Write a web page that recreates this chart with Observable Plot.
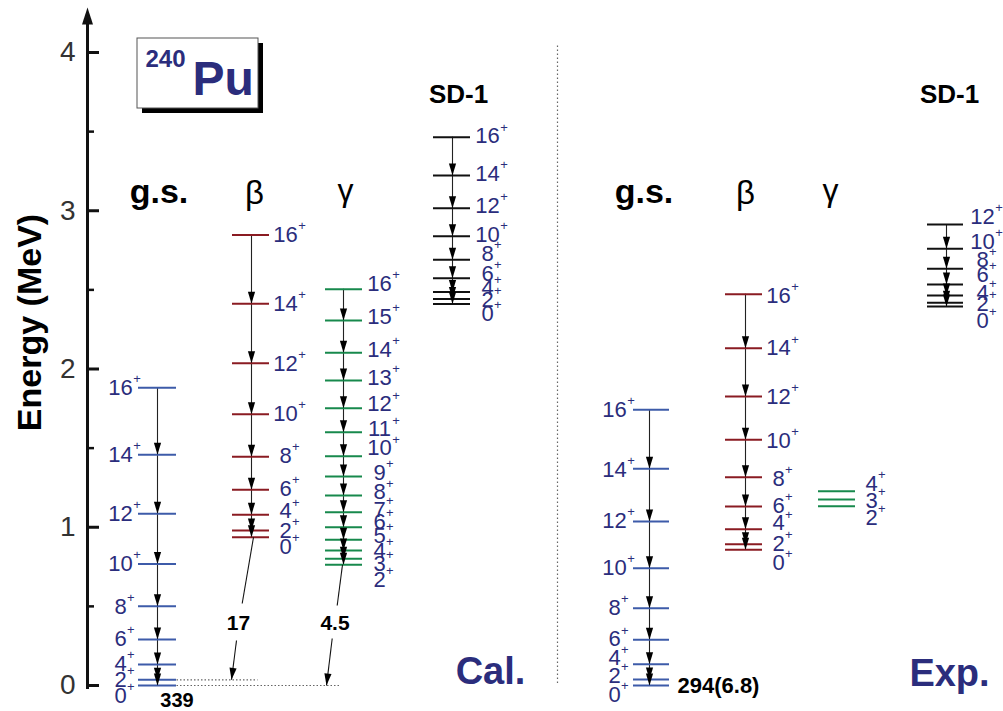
<!DOCTYPE html>
<html><head><meta charset="utf-8">
<script src="https://cdn.jsdelivr.net/npm/d3@7"></script>
<script src="https://cdn.jsdelivr.net/npm/@observablehq/plot@0.6"></script>
<style>html,body{margin:0;padding:0;background:#fff}#chart svg{display:block}</style>
</head><body><div id="chart"></div>
<script>
// ---------- DATA (energies in MeV) ----------
const evenSpins = [0, 2, 4, 6, 8, 10, 12, 14, 16];
const gammaCalSpins = [2, 3, 4, 5, 6, 7, 8, 9, 10, 11, 12, 13, 14, 15, 16];
const gammaExpSpins = [2, 3, 4];
const sdExpSpins = [0, 2, 4, 6, 8, 10, 12];

// Calculation
const calGsEnergy   = [0, 0.036, 0.133, 0.291, 0.501, 0.767, 1.085, 1.458, 1.881];
const calGsLabelE   = [-0.063, 0.038, 0.139, 0.297, 0.499, 0.771, 1.087, 1.46, 1.883];
const calBetaEnergy = [0.937, 0.979, 1.079, 1.237, 1.445, 1.714, 2.037, 2.412, 2.846];
const calBetaLabelE = [0.878, 0.979, 1.100, 1.245, 1.453, 1.719, 2.035, 2.414, 2.85];
const calGammaEnergy = [0.763, 0.801, 0.853, 0.921, 1.000, 1.095, 1.201, 1.321, 1.449, 1.601, 1.752, 1.927, 2.102, 2.306, 2.504];
const calGammaLabelE = [0.670, 0.771, 0.853, 0.948, 1.032, 1.112, 1.220, 1.346, 1.498, 1.618, 1.776, 1.943, 2.123, 2.332, 2.540];
const calSdEnergy   = [2.411, 2.442, 2.487, 2.574, 2.690, 2.839, 3.016, 3.223, 3.465];
const calSdLabelE   = [2.350, 2.439, 2.509, 2.603, 2.730, 2.850, 3.029, 3.231, 3.470];

// Experiment
const expGsEnergy   = [0, 0.038, 0.135, 0.289, 0.488, 0.741, 1.036, 1.369, 1.742];
const expGsLabelE   = [-0.057, 0.059, 0.171, 0.291, 0.490, 0.742, 1.038, 1.365, 1.741];
const expBetaEnergy = [0.858, 0.893, 0.988, 1.131, 1.316, 1.553, 1.826, 2.131, 2.473];
const expBetaLabelE = [0.774, 0.897, 1.024, 1.133, 1.308, 1.548, 1.826, 2.130, 2.464];
const expGammaEnergy = [1.133, 1.175, 1.228];
const expGammaLabelE = [1.058, 1.169, 1.276];
const expSdEnergy   = [2.395, 2.418, 2.464, 2.534, 2.633, 2.760, 2.913];
const expSdLabelE   = [2.306, 2.414, 2.483, 2.597, 2.686, 2.801, 2.959];

// Interband values
const calBetaBE2 = "17";
const calGammaBE2 = "4.5";
const calGsBE2 = "339";
const expGsBE2 = "294(6.8)";

const axisMajor = [0, 1, 2, 3, 4];
const axisMinor = [0.5, 1.5, 2.5, 3.5];

// ---------- STYLE / LAYOUT ----------
const navy = "#2b2d7c";
const gsColor = "#3d5ba9", betaColor = "#8a1b22", gammaColor = "#17894c", sdColor = "#111";
const FONT = "Liberation Sans, Arial, Helvetica, sans-serif";
const LABEL_SIZE = 22;

const bands = [
  {spins: evenSpins, E: calGsEnergy, LE: calGsLabelE, color: gsColor, x1: 138, x2: 176, ax: 157, lx: 120},
  {spins: evenSpins, E: calBetaEnergy, LE: calBetaLabelE, color: betaColor, x1: 232, x2: 269, ax: 251, lx: 285},
  {spins: gammaCalSpins, E: calGammaEnergy, LE: calGammaLabelE, color: gammaColor, x1: 325, x2: 362, ax: 343, lx: 379},
  {spins: evenSpins, E: calSdEnergy, LE: calSdLabelE, color: sdColor, x1: 433, x2: 470, ax: 452, lx: 487},
  {spins: evenSpins, E: expGsEnergy, LE: expGsLabelE, color: gsColor, x1: 633, x2: 669, ax: 649, lx: 614},
  {spins: evenSpins, E: expBetaEnergy, LE: expBetaLabelE, color: betaColor, x1: 725, x2: 762, ax: 745, lx: 778},
  {spins: gammaExpSpins, E: expGammaEnergy, LE: expGammaLabelE, color: gammaColor, x1: 818, x2: 855, ax: null, lx: 871},
  {spins: sdExpSpins, E: expSdEnergy, LE: expSdLabelE, color: sdColor, x1: 927, x2: 963, ax: 946, lx: 982}
];

const px = p => (685 - p) / 158.25; // layout helper: pixel row -> energy

// filled arrow-head symbols, tip at origin
const headSym = {draw(ctx) { ctx.moveTo(0, 0); ctx.lineTo(-3.6, -12); ctx.lineTo(3.6, -12); ctx.closePath(); }};
const bigHead = {draw(ctx) { ctx.moveTo(0, 0); ctx.lineTo(-5.5, 17); ctx.lineTo(5.5, 17); ctx.closePath(); }};

const marks = [];

// y axis
marks.push(Plot.ruleX([87], {y1: px(689), y2: px(20), stroke: "#111", strokeWidth: 3}));
marks.push(Plot.dot([87], {x: d => d, y: px(7), symbol: bigHead, fill: "#111", stroke: "none"}));
marks.push(Plot.ruleY(axisMajor, {y: d => d, x1: 86, x2: 99, stroke: "#111", strokeWidth: 3}));
marks.push(Plot.ruleY(axisMinor, {y: d => d, x1: 86, x2: 94, stroke: "#111", strokeWidth: 2.5}));
marks.push(Plot.text(axisMajor, {x: 75, y: d => d, text: d => String(d), textAnchor: "end", lineAnchor: "middle", fontSize: 28, fill: "#333"}));
marks.push(Plot.text(["Energy (MeV)"], {x: 30, y: px(322), text: d => d, rotate: -90, fontSize: 34, fontWeight: "bold", fill: "#000", lineAnchor: "middle"}));

// divider
marks.push(Plot.ruleX([557], {y1: px(683), y2: px(45), stroke: "#666", strokeWidth: 1.2, strokeDasharray: "1.5,2.5"}));

// dotted reference lines
marks.push(Plot.link([{a: 176, b: 257, e: calGsEnergy[1]}, {a: 176, b: 339, e: calGsEnergy[0]}],
  {x1: "a", x2: "b", y1: "e", y2: "e", stroke: "#666", strokeWidth: 1.2, strokeDasharray: "1.5,2"}));

// bands
for (const b of bands) {
  const levels = b.spins.map((s, i) => ({s, E: b.E[i], LE: b.LE[i], nd: String(s).length}));
  if (b.ax != null) {
    marks.push(Plot.ruleX([b.ax], {y1: d3.min(b.E), y2: d3.max(b.E), stroke: "#222", strokeWidth: 1.1}));
  }
  marks.push(Plot.ruleY(levels, {y: "E", x1: b.x1, x2: b.x2, stroke: b.color, strokeWidth: 2}));
  if (b.ax != null) {
    const top = d3.max(b.E);
    marks.push(Plot.dot(levels.filter(d => d.E < top), {x: b.ax, y: "E", symbol: headSym, fill: "#000", stroke: "none"}));
  }
  marks.push(Plot.text(levels, {x: b.lx, y: "LE", text: d => String(d.s), textAnchor: "middle", lineAnchor: "middle", fontSize: LABEL_SIZE, fill: navy}));
  marks.push(Plot.text(levels, {x: d => b.lx + d.nd * 6.1 + 0.5, y: "LE", text: () => "+", textAnchor: "start", lineAnchor: "middle", dy: -9, fontSize: 13, fill: navy}));
}

// interband transitions (Cal.)
const interLinks = [
  {x1: 253, y1: calBetaEnergy[0], x2: 241.7, y2: px(603)},
  {x1: 236, y1: px(640), x2: 231, y2: calGsEnergy[1]},
  {x1: 342, y1: calGammaEnergy[0], x2: 336.7, y2: px(605)},
  {x1: 331.7, y1: px(638), x2: 326, y2: calGsEnergy[0]}
];
marks.push(Plot.link(interLinks, {x1: "x1", y1: "y1", x2: "x2", y2: "y2", stroke: "#111", strokeWidth: 1.1}));
marks.push(Plot.dot([{x: 231, y: calGsEnergy[1], r: 7.5}, {x: 326, y: calGsEnergy[0], r: 6.9}],
  {x: "x", y: "y", rotate: "r", symbol: headSym, fill: "#000", stroke: "none"}));

// transition strengths
const bold = {fontWeight: "bold", fill: "#000", lineAnchor: "middle", fontSize: 21};
marks.push(Plot.text([calBetaBE2], {x: 238, y: px(623), text: d => d, ...bold}));
marks.push(Plot.text([calGammaBE2], {x: 334.5, y: px(623), text: d => d, ...bold}));
marks.push(Plot.text([calGsBE2], {x: 176.5, y: px(700), text: d => d, ...bold, fontSize: 20}));
marks.push(Plot.text([expGsBE2], {x: 677, y: px(685), text: d => d, textAnchor: "start", ...bold, fontSize: 22}));

// band headers
const hdr = {lineAnchor: "bottom", fill: "#000"};
marks.push(Plot.text(["g.s.", "g.s."], {x: [158.5, 643.5], y: px(202), text: d => d, fontSize: 34, fontWeight: "bold", ...hdr}));
marks.push(Plot.text(["β", "β"], {x: [254, 745], y: px(203), text: d => d, fontSize: 33, ...hdr}));
marks.push(Plot.text(["γ", "γ"], {x: [345, 830], y: px(200), text: d => d, fontSize: 32, ...hdr}));
marks.push(Plot.text(["SD-1", "SD-1"], {x: [458, 949], y: px(102), text: d => d, fontSize: 26, fontWeight: "bold", ...hdr}));
marks.push(Plot.text(["Cal.", "Exp."], {x: [490, 949], y: [px(683), px(685)], text: d => d, fontSize: 38, fontWeight: "bold", fill: navy, lineAnchor: "bottom"}));

// nucleus box
marks.push(Plot.rect([0], {x1: 142, x2: 263, y1: px(113), y2: px(43), fill: "#000"}));
marks.push(Plot.rect([0], {x1: 137, x2: 258, y1: px(108), y2: px(38), fill: "#fff", stroke: "#555", strokeWidth: 1}));
marks.push(Plot.text(["240"], {x: 145, y: px(66), text: d => d, textAnchor: "start", lineAnchor: "bottom", fontSize: 24, fontWeight: "bold", fill: navy}));
marks.push(Plot.text(["Pu"], {x: 192, y: px(94), text: d => d, textAnchor: "start", lineAnchor: "bottom", fontSize: 48, fontWeight: "bold", fill: navy}));

const chart = Plot.plot({
  width: 1003, height: 711,
  marginTop: 0, marginRight: 0, marginBottom: 0, marginLeft: 0,
  x: {domain: [0, 1003], range: [0, 1003], axis: null},
  y: {domain: [0, 4], range: [685, 52], axis: null},
  style: {fontFamily: FONT, background: "#fff", overflow: "visible"},
  marks
});
document.getElementById("chart").appendChild(chart);
</script>
</body></html>
